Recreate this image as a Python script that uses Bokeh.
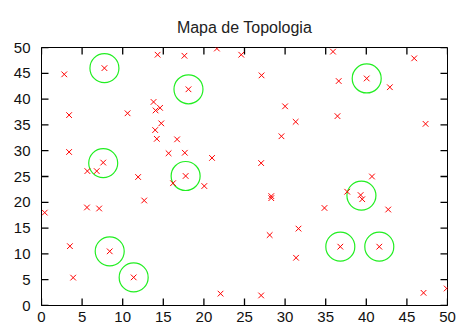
import math
from bokeh.plotting import figure
from bokeh.models import FixedTicker, Range1d, ColumnDataSource
from bokeh.embed import file_html
from bokeh.resources import INLINE

# ---- data ----
title_text = "Mapa de Topologia"
tick_values = [0, 5, 10, 15, 20, 25, 30, 35, 40, 45, 50]

node_x = [2.8, 14.3, 17.6, 21.6, 3.4, 10.6, 13.8, 14.05, 14.6, 14.75, 14.0, 14.2,
          16.7, 3.4, 15.65, 17.65, 21.0, 5.65, 6.8, 11.9, 16.2, 20.05, 0.4, 5.6,
          7.1, 12.65, 3.5, 3.9, 22.05, 24.6, 35.9, 45.9, 27.1, 36.6, 42.9, 30.0,
          31.3, 36.45, 47.3, 29.55, 27.05, 40.7, 37.65, 39.3, 39.5, 28.3, 28.3,
          34.85, 42.7, 28.1, 31.65, 31.35, 27.05, 47.05, 49.9,
          7.75, 18.1, 7.6, 17.75, 8.4, 11.35, 40.05, 36.8, 41.6]
node_y = [44.8, 48.6, 48.4, 49.8, 36.9, 37.25, 39.45, 37.8, 38.3, 35.3, 34.0, 32.3,
          32.2, 29.75, 29.5, 29.6, 28.6, 26.05, 26.05, 24.9, 23.7, 23.15, 18.0, 19.0,
          18.8, 20.35, 11.5, 5.4, 2.3, 48.6, 49.2, 47.9, 44.6, 43.5, 42.3, 38.6,
          35.6, 36.7, 35.2, 32.8, 27.6, 25.0, 22.05, 21.4, 20.6, 21.2, 20.8,
          18.9, 18.6, 13.65, 14.9, 9.25, 1.95, 2.45, 3.3,
          46.0, 41.9, 27.7, 25.1, 10.5, 5.45, 44.0, 11.4, 11.4]

head_x = [7.75, 18.1, 7.6, 17.75, 8.4, 11.35, 40.05, 39.4, 36.8, 41.6]
head_y = [46.0, 41.9, 27.6, 25.1, 10.5, 5.45, 44.0, 21.3, 11.4, 11.4]

FONT = "Liberation Sans"

p = figure(width=457, height=328,
           x_range=Range1d(0, 50), y_range=Range1d(0, 50),
           output_backend="svg", toolbar_location=None,
           min_border_left=41, min_border_right=10, min_border_top=47,
           min_border_bottom=23, title=title_text)

p.title.align = "center"
p.title.vertical_align = "bottom"
p.title.text_font = FONT
p.title.text_font_size = "16px"
p.title.text_font_style = "normal"
p.title.text_color = "#222222"
p.title.standoff = 24

p.grid.visible = False
p.outline_line_color = "black"
p.outline_line_width = 1
p.background_fill_color = "white"
p.border_fill_color = "white"

ticker = FixedTicker(ticks=tick_values)

for ax, standoff in ((p.xaxis[0], 6), (p.yaxis[0], 11)):
    ax.ticker = ticker
    ax.major_tick_in = 0
    ax.major_tick_out = 0
    ax.minor_tick_line_color = None
    ax.axis_line_color = "black"
    ax.major_label_text_font = FONT
    ax.major_label_text_font_size = "15px"
    ax.major_label_text_color = "#111111"
    ax.major_label_standoff = standoff

# inward tick marks on all four sides (gnuplot-style mirrored ticks)
n = len(tick_values)
xr, yr = p.x_range, p.y_range
tick_style = dict(line_color="black", line_width=1.3, length=7, length_units="screen")
p.ray(x=tick_values, y=[yr.start] * n, angle=math.pi / 2, **tick_style)
p.ray(x=tick_values, y=[yr.end] * n, angle=-math.pi / 2, **tick_style)
p.ray(x=[xr.start] * n, y=tick_values, angle=0, **tick_style)
p.ray(x=[xr.end] * n, y=tick_values, angle=math.pi, **tick_style)

nodes = ColumnDataSource(dict(x=node_x, y=node_y))
heads = ColumnDataSource(dict(x=head_x, y=head_y))

p.scatter("x", "y", source=heads, marker="circle", size=29,
          fill_color=None, line_color="#22ee22", line_width=1.2)
p.scatter("x", "y", source=nodes, marker="x", size=8,
          line_color="#ff0000", line_width=1)

open("out.html", "w").write(file_html(p, INLINE))
